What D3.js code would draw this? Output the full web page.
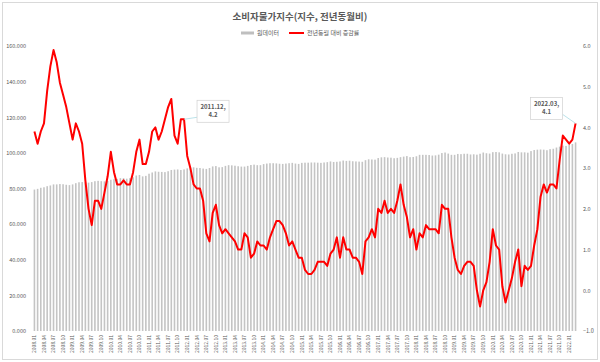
<!DOCTYPE html>
<html>
<head>
<meta charset="utf-8">
<script src="https://cdn.jsdelivr.net/npm/d3@7/dist/d3.min.js"></script>
<style>
  body { margin: 0; background: #fff; }
  svg text { font-family: "Noto Sans CJK KR", "Noto Sans", sans-serif; fill: #595959; }
</style>
</head>
<body>
<div id="container-id-1"></div>
<script>

// data
/////////////////////
var years = d3.range(2008, 2023);

// 2008.01 ~ 2022.03
var months = [];
years.forEach(function(y){
  d3.range(1, 13).forEach(function(m){
    if (y === 2022 && m > 3) return;
    months.push(y + '.' + (m < 10 ? '0' + m : m));
  });
});

// 원데이터 (index)
var cpi_index = [
  79.4, 79.8, 80.4, 80.7, 81.3, 81.7, 82.3, 82.3, 82.5, 82.4, 82.1, 81.9,
  82.3, 83.0, 83.5, 83.6, 83.5, 83.3, 83.6, 84.1, 84.3, 84.1, 84.0, 84.2,
  84.9, 85.2, 85.4, 85.8, 85.8, 85.5, 85.8, 86.3, 87.3, 87.6, 86.8, 87.1,
  88.3, 89.0, 89.6, 89.4, 89.3, 89.2, 89.7, 90.4, 90.6, 90.7, 90.4, 90.7,
  91.3, 91.8, 91.9, 91.6, 91.5, 91.2, 91.0, 91.5, 92.4, 92.6, 91.9, 92.0,
  92.7, 93.1, 93.0, 92.8, 92.5, 92.3, 92.3, 92.7, 93.2, 93.4, 93.1, 93.1,
  93.7, 94.0, 94.2, 94.2, 94.1, 93.9, 93.8, 94.0, 94.2, 94.4, 94.0, 93.8,
  94.4, 94.5, 94.5, 94.6, 94.6, 94.5, 94.4, 94.6, 94.8, 95.2, 94.9, 95.0,
  95.2, 95.7, 95.5, 95.6, 95.3, 95.2, 95.1, 95.0, 95.9, 96.4, 96.3, 96.2,
  97.1, 97.5, 97.6, 97.4, 97.3, 97.0, 97.2, 97.6, 97.9, 98.2, 97.6, 97.7,
  98.1, 98.9, 98.9, 98.9, 98.8, 98.5, 98.6, 99.0, 99.9, 100.2, 99.6, 98.9,
  98.9, 99.4, 99.3, 99.5, 99.5, 99.1, 99.2, 99.0, 99.5, 100.2, 99.8, 99.6,
  100.4, 100.5, 100.3, 99.6, 99.2, 99.1, 99.5, 99.7, 100.5, 100.3, 100.3, 100.1,
  101.0, 101.6, 101.8, 101.9, 101.8, 101.5, 102.1, 102.3, 103.0, 103.5, 104.1, 103.9,
  104.7, 105.0, 105.9
];

// 전년동월 대비 증감률 (%)
var cpi_yoy = [
  3.9, 3.6, 3.9, 4.1, 4.9, 5.5, 5.9, 5.6, 5.1, 4.8, 4.5, 4.1,
  3.7, 4.1, 3.9, 3.6, 2.7, 2.0, 1.6, 2.2, 2.2, 2.0, 2.4, 2.8,
  3.4, 2.9, 2.6, 2.6, 2.7, 2.6, 2.6, 2.9, 3.4, 3.7, 3.1, 3.1,
  3.4, 3.9, 4.0, 3.7, 3.9, 4.2, 4.5, 4.7, 3.8, 3.6, 4.2, 4.2,
  3.3, 3.0, 2.6, 2.5, 2.5, 2.2, 1.4, 1.2, 1.9, 2.1, 1.6, 1.4,
  1.5, 1.4, 1.3, 1.2, 1.0, 1.0, 1.4, 1.3, 0.8, 0.9, 1.2, 1.1,
  1.1, 1.0, 1.3, 1.5, 1.7, 1.7, 1.6, 1.4, 1.1, 1.2, 1.0, 0.8,
  0.8, 0.5, 0.4, 0.4, 0.5, 0.7, 0.7, 0.7, 0.6, 0.9, 1.0, 1.3,
  0.8, 1.3, 1.0, 1.0, 0.8, 0.8, 0.7, 0.4, 1.2, 1.3, 1.5, 1.3,
  2.0, 1.9, 2.2, 1.9, 2.0, 1.9, 2.2, 2.6, 2.1, 1.8, 1.3, 1.5,
  1.0, 1.4, 1.3, 1.6, 1.5, 1.5, 1.5, 1.4, 2.1, 2.0, 2.0, 1.3,
  0.8, 0.5, 0.4, 0.6, 0.7, 0.7, 0.6, 0.0, -0.4, 0.0, 0.2, 0.7,
  1.5, 1.1, 1.0, 0.1, -0.3, 0.0, 0.3, 0.7, 1.0, 0.1, 0.6, 0.5,
  0.6, 1.1, 1.5, 2.3, 2.6, 2.4, 2.6, 2.6, 2.5, 3.2, 3.8, 3.7,
  3.6, 3.7, 4.1
];

var left_ticks = [0, 20, 40, 60, 80, 100, 120, 140, 160];
var right_ticks = [-1, 0, 1, 2, 3, 4, 5, 6];
var x_ticks = months.filter(function(d, i){ return i % 3 === 0; });
var callouts = ['2011.12', '2022.03'];

// make chart
////////////////////
var svg_width = 600;
var svg_height = 362;
var plot = {left: 33, right: 577, top: 46, bottom: 331};

var main_svg = d3.select('#container-id-1')
  .append('svg')
  .attr('width', svg_width)
  .attr('height', svg_height);

// frame
main_svg.append('rect')
  .attr('x', 2.5).attr('y', 2.5)
  .attr('width', svg_width - 5).attr('height', svg_height - 5)
  .attr('fill', '#fff')
  .attr('stroke', '#d9d9d9');

var x = d3.scaleBand()
  .domain(months)
  .range([plot.left, plot.right])
  .paddingInner(0.5)
  .paddingOuter(0.2);

var y_left = d3.scaleLinear().domain([0, 160]).range([plot.bottom, plot.top]);
var y_right = d3.scaleLinear().domain([-1, 6]).range([plot.bottom, plot.top]);

// title + legend
main_svg.append('text')
  .attr('x', 300).attr('y', 20)
  .attr('text-anchor', 'middle')
  .style('font-size', '9.5px')
  .style('font-weight', 'bold')
  .text('소비자물가지수(지수, 전년동월비)');

var legend = main_svg.append('g').attr('transform', 'translate(241,33)');
legend.append('line')
  .attr('x1', 0).attr('x2', 13).attr('y1', 0).attr('y2', 0)
  .attr('stroke', '#bfbfbf').attr('stroke-width', 3);
legend.append('text')
  .attr('x', 16).attr('y', 2)
  .style('font-size', '6px')
  .text('원데이터');
legend.append('line')
  .attr('x1', 48).attr('x2', 63).attr('y1', 0).attr('y2', 0)
  .attr('stroke', '#ff0000').attr('stroke-width', 2);
legend.append('text')
  .attr('x', 66).attr('y', 2)
  .style('font-size', '6px')
  .text('전년동월 대비 증감률');

// bars
main_svg.append('g')
  .selectAll('rect')
  .data(months)
  .enter()
  .append('rect')
  .attr('x', function(d){ return x(d); })
  .attr('width', x.bandwidth())
  .attr('y', function(d, i){ return y_left(cpi_index[i]); })
  .attr('height', function(d, i){ return y_left(0) - y_left(cpi_index[i]); })
  .attr('fill', '#c4c4c4');

// axes
var left_axis = main_svg.append('g')
  .attr('transform', 'translate(' + plot.left + ',0)')
  .call(d3.axisLeft(y_left).tickValues(left_ticks).tickFormat(d3.format('.3f')).tickSize(0).tickPadding(7));

var right_axis = main_svg.append('g')
  .attr('transform', 'translate(' + plot.right + ',0)')
  .call(d3.axisRight(y_right).tickValues(right_ticks).tickFormat(d3.format('.1f')).tickSize(0).tickPadding(6));

var bottom_axis = main_svg.append('g')
  .attr('transform', 'translate(0,' + plot.bottom + ')')
  .call(d3.axisBottom(x).tickValues(x_ticks).tickSize(0));

bottom_axis.selectAll('text')
  .attr('transform', 'rotate(-90)')
  .attr('x', -4)
  .attr('y', 0)
  .attr('dy', '0.35em')
  .attr('text-anchor', 'end')
  .style('font-size', '5px');

[left_axis, right_axis].forEach(function(ax){
  ax.selectAll('text').style('font-size', '5.5px');
});
[left_axis, right_axis, bottom_axis].forEach(function(ax){
  ax.select('.domain').remove();
  ax.selectAll('text').attr('fill', '#595959');
});

// yoy line
var line = d3.line()
  .x(function(d){ return x(d) + x.bandwidth() / 2; })
  .y(function(d, i){ return y_right(cpi_yoy[i]); });

main_svg.append('path')
  .datum(months)
  .attr('d', line)
  .attr('fill', 'none')
  .attr('stroke', '#ff0000')
  .attr('stroke-width', 2)
  .attr('stroke-linejoin', 'round');

// callouts
var offsets = {'2011.12': [13, -19], '2022.03': [-45, -26]};

callouts.forEach(function(m){
  var i = months.indexOf(m);
  var px = x(m) + x.bandwidth() / 2;
  var py = y_right(cpi_yoy[i]);
  var bx = px + offsets[m][0];
  var by = py + offsets[m][1];
  var bw = 32, bh = 22;

  var lx = offsets[m][0] > 0 ? bx : bx + bw;
  main_svg.append('line')
    .attr('x1', px).attr('y1', py)
    .attr('x2', lx).attr('y2', by + bh - 5)
    .attr('stroke', '#a9dbe3').attr('stroke-width', 0.8);

  main_svg.append('rect')
    .attr('x', bx).attr('y', by)
    .attr('width', bw).attr('height', bh)
    .attr('fill', '#fff')
    .attr('stroke', '#d0d0d0').attr('stroke-width', 0.7);

  var t = main_svg.append('text')
    .attr('x', bx + bw / 2).attr('y', by + 9)
    .attr('text-anchor', 'middle')
    .style('font-size', '6px')
    .style('font-weight', 'bold')
    .attr('fill', '#404040');
  t.append('tspan').text(m + ',');
  t.append('tspan').attr('x', bx + bw / 2).attr('dy', 8).text(cpi_yoy[i].toFixed(1));
});

</script>
</body>
</html>
